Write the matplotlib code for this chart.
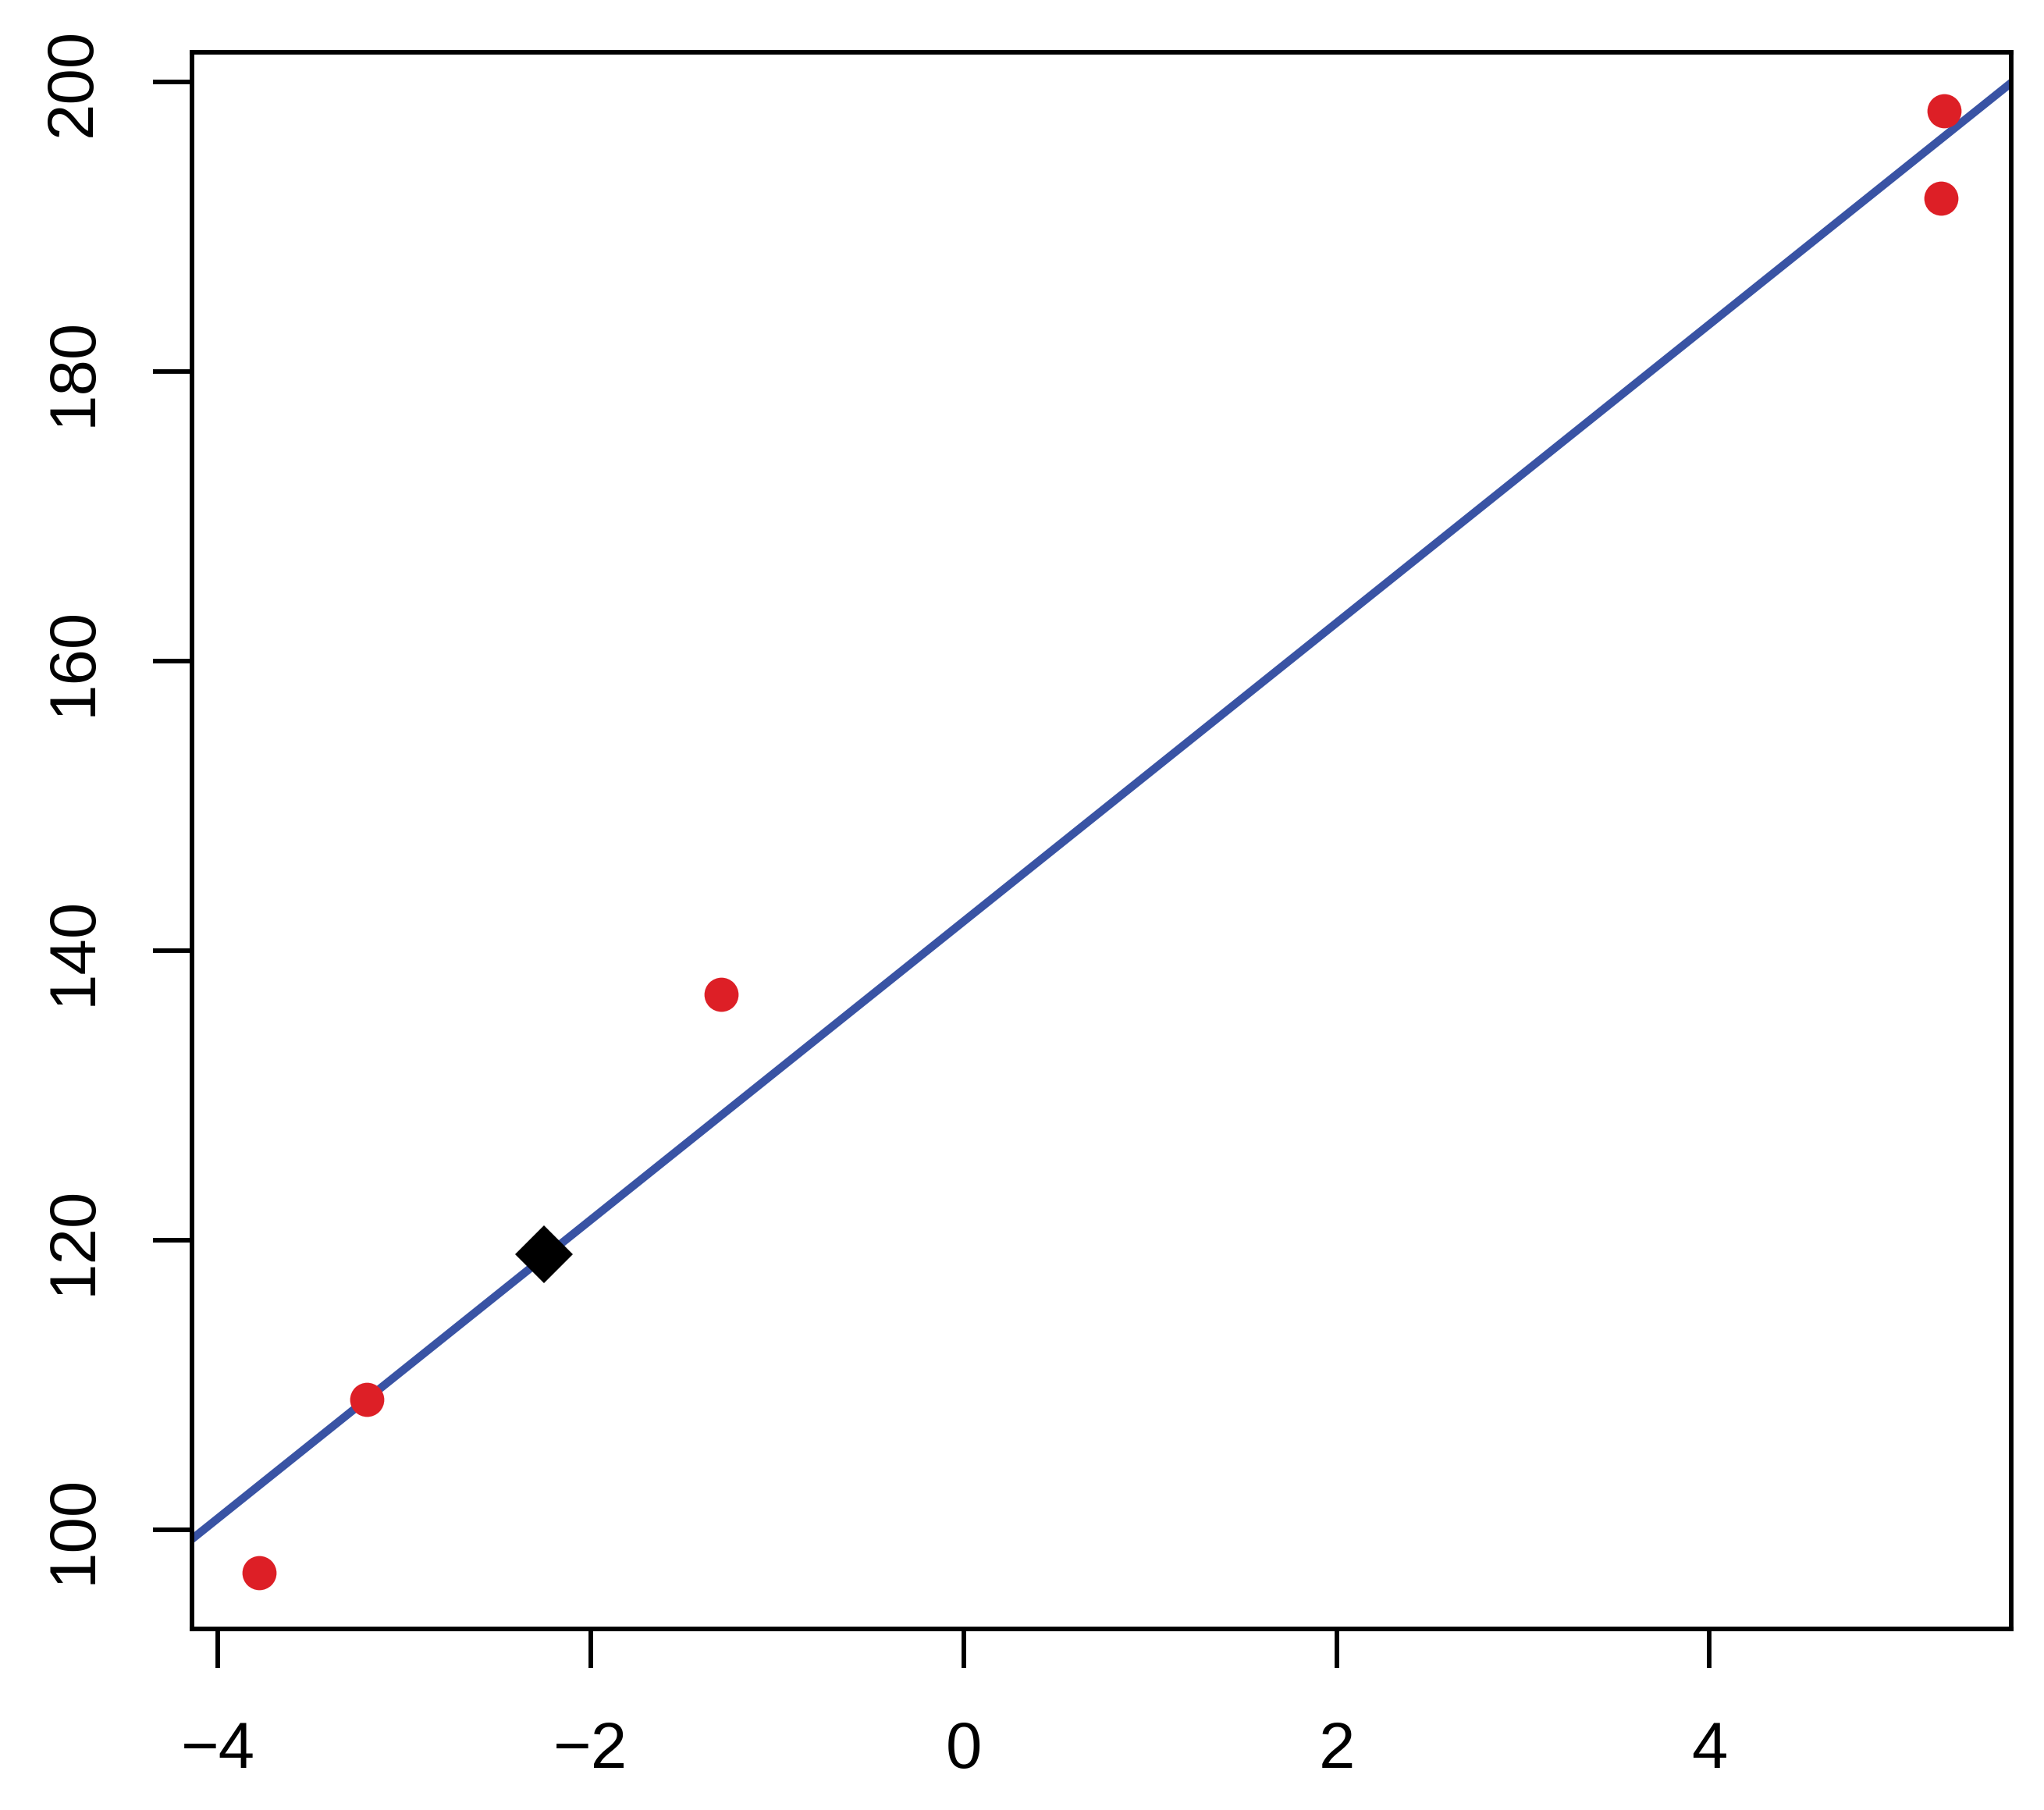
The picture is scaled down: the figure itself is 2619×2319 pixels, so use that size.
import numpy as np
import matplotlib
matplotlib.use("Agg")
import matplotlib.pyplot as plt

plt.rcParams['font.family'] = ['Liberation Sans', 'DejaVu Sans']

# observed points
x_obs = [-3.78, -3.20, -1.30, 5.26, 5.24]
y_obs = [97, 109, 137, 198, 192]

# predicted point
x_new = [-2.25]
y_new = [119]

x_ticks = [-4, -2, 0, 2, 4]
y_ticks = [100, 120, 140, 160, 180, 200]

slope, intercept = np.polyfit(x_obs, y_obs, 1)

fig = plt.figure(figsize=(8.73, 7.73), dpi=300)
ax = fig.add_axes([0.0938, 0.1001, 0.8903, 0.8711])

xlim = (-4.14, 5.62)
ylim = (93.15, 202.07)
xx = np.array(xlim)
ax.plot(xx, intercept + slope * xx, color='#3953A4', lw=2.5, zorder=2)
ax.plot(x_obs, y_obs, 'o', color='#DD1F26', ms=10.5, mec='none', zorder=3)
ax.plot(x_new, y_new, 'D', color='black', ms=12.5, mec='none', zorder=4)

ax.set_xlim(xlim)
ax.set_ylim(ylim)
ax.set_xticks(x_ticks)
ax.set_xticklabels([str(t).replace('-', '\u2212') for t in x_ticks])
ax.set_yticks(y_ticks)
ax.set_yticklabels([str(t) for t in y_ticks], rotation=90, va='center')

for s in ax.spines.values():
    s.set_linewidth(1.4)
ax.tick_params(axis='both', length=12, width=1.4, labelsize=20, color='black')
ax.tick_params(axis='x', pad=16)
ax.tick_params(axis='y', pad=15)

fig.savefig("out.png", dpi=300)
